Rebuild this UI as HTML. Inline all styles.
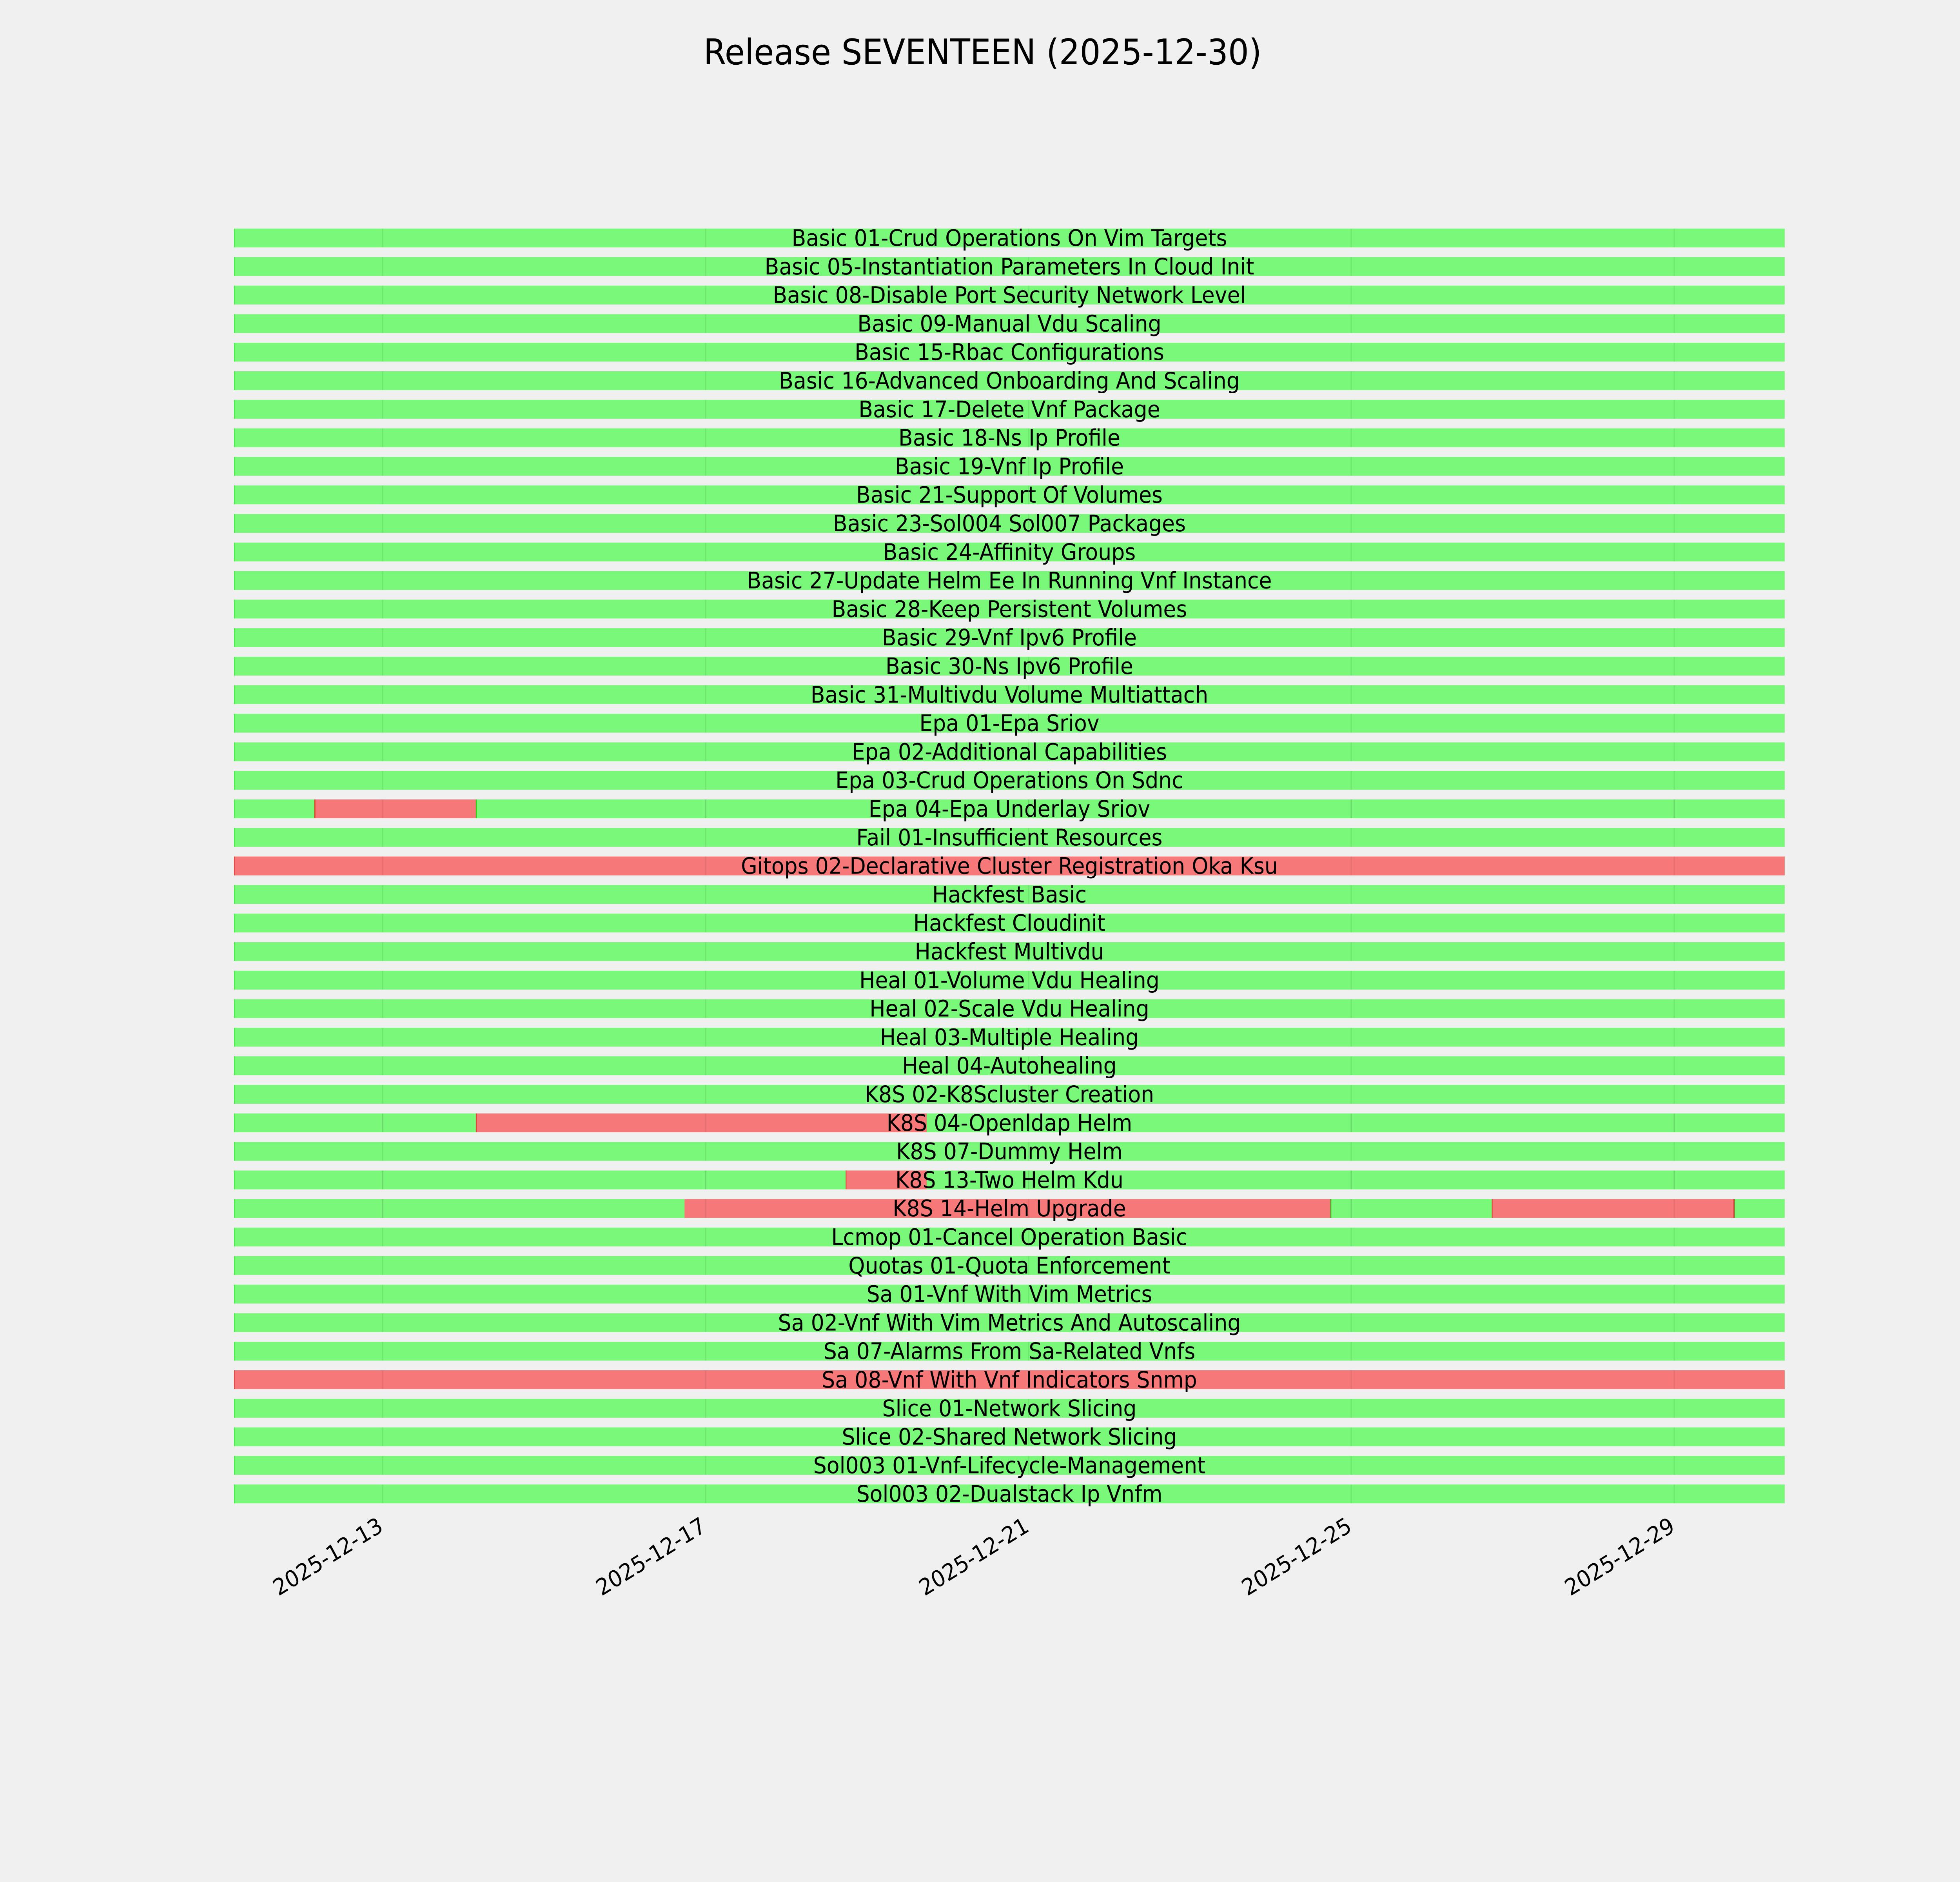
<!DOCTYPE html>
<html><head><meta charset="utf-8"><style>
html,body{margin:0;padding:0;background:#f0f0f0;width:100%;height:100%;overflow:hidden;}
svg{display:block;width:100vw;height:100vh;}
text{font-family:"DejaVu Sans","Liberation Sans",sans-serif;fill:#000;}
</style></head><body>
<svg viewBox="0 0 5400 4800" preserveAspectRatio="none" xmlns="http://www.w3.org/2000/svg">
<defs>
<g id="row">
<rect x="645" y="0" width="4272" height="48" fill="#79f879"/>
<rect x="645" y="0" width="3" height="48" fill="#3ef03e"/>
<rect x="1052" y="0" width="4" height="48" fill="#000" fill-opacity="0.06"/>
<rect x="1942" y="0" width="4" height="48" fill="#000" fill-opacity="0.06"/>
<rect x="2832" y="0" width="4" height="48" fill="#000" fill-opacity="0.06"/>
<rect x="3721" y="0" width="4" height="48" fill="#000" fill-opacity="0.06"/>
<rect x="4611" y="0" width="4" height="48" fill="#000" fill-opacity="0.06"/>
</g>
<g id="grid">
<rect x="1052" y="0" width="4" height="48" fill="#000" fill-opacity="0.06"/>
<rect x="1942" y="0" width="4" height="48" fill="#000" fill-opacity="0.06"/>
<rect x="2832" y="0" width="4" height="48" fill="#000" fill-opacity="0.06"/>
<rect x="3721" y="0" width="4" height="48" fill="#000" fill-opacity="0.06"/>
<rect x="4611" y="0" width="4" height="48" fill="#000" fill-opacity="0.06"/>
</g>
</defs>
<rect width="5400" height="4800" fill="#f0f0f0"/>
<text x="2707" y="164" font-size="90" text-anchor="middle">Release SEVENTEEN (2025-12-30)</text>

<g transform="translate(0,583)"><use href="#row"/></g>
<g transform="translate(0,655.8)"><use href="#row"/></g>
<g transform="translate(0,728.6)"><use href="#row"/></g>
<g transform="translate(0,801.4)"><use href="#row"/></g>
<g transform="translate(0,874.2)"><use href="#row"/></g>
<g transform="translate(0,947)"><use href="#row"/></g>
<g transform="translate(0,1019.8)"><use href="#row"/></g>
<g transform="translate(0,1092.6)"><use href="#row"/></g>
<g transform="translate(0,1165.4)"><use href="#row"/></g>
<g transform="translate(0,1238.2)"><use href="#row"/></g>
<g transform="translate(0,1311)"><use href="#row"/></g>
<g transform="translate(0,1383.8)"><use href="#row"/></g>
<g transform="translate(0,1456.6)"><use href="#row"/></g>
<g transform="translate(0,1529.4)"><use href="#row"/></g>
<g transform="translate(0,1602.2)"><use href="#row"/></g>
<g transform="translate(0,1675)"><use href="#row"/></g>
<g transform="translate(0,1747.8)"><use href="#row"/></g>
<g transform="translate(0,1820.6)"><use href="#row"/></g>
<g transform="translate(0,1893.4)"><use href="#row"/></g>
<g transform="translate(0,1966.2)"><use href="#row"/></g>
<g transform="translate(0,2039)"><use href="#row"/><rect x="867" y="0" width="445" height="48" fill="#f77878"/><rect x="866" y="0" width="3" height="48" fill="#e03a20"/><rect x="1311" y="0" width="3" height="48" fill="#3ad020"/><use href="#grid"/></g>
<g transform="translate(0,2111.8)"><use href="#row"/></g>
<g transform="translate(0,2184.6)"><use href="#row"/><rect x="645" y="0" width="4272" height="48" fill="#f77878"/><rect x="645" y="0" width="3" height="48" fill="#f04040"/><use href="#grid"/></g>
<g transform="translate(0,2257.4)"><use href="#row"/></g>
<g transform="translate(0,2330.2)"><use href="#row"/></g>
<g transform="translate(0,2403)"><use href="#row"/></g>
<g transform="translate(0,2475.8)"><use href="#row"/></g>
<g transform="translate(0,2548.6)"><use href="#row"/></g>
<g transform="translate(0,2621.4)"><use href="#row"/></g>
<g transform="translate(0,2694.2)"><use href="#row"/></g>
<g transform="translate(0,2767)"><use href="#row"/></g>
<g transform="translate(0,2839.8)"><use href="#row"/><rect x="1312" y="0" width="1241" height="48" fill="#f77878"/><rect x="1311" y="0" width="2" height="48" fill="#c03a20"/><use href="#grid"/></g>
<g transform="translate(0,2912.6)"><use href="#row"/></g>
<g transform="translate(0,2985.4)"><use href="#row"/><rect x="2331" y="0" width="222" height="48" fill="#f77878"/><rect x="2330" y="0" width="2" height="48" fill="#c03a20"/><use href="#grid"/></g>
<g transform="translate(0,3058.2)"><use href="#row"/><rect x="1886" y="0" width="1780" height="48" fill="#f77878"/><rect x="4111" y="0" width="666" height="48" fill="#f77878"/><rect x="3665" y="0" width="3" height="48" fill="#3ab020"/><rect x="4110" y="0" width="2" height="48" fill="#c03a20"/><rect x="4776" y="0" width="3" height="48" fill="#c03a20"/><use href="#grid"/></g>
<g transform="translate(0,3131)"><use href="#row"/></g>
<g transform="translate(0,3203.8)"><use href="#row"/></g>
<g transform="translate(0,3276.6)"><use href="#row"/></g>
<g transform="translate(0,3349.4)"><use href="#row"/></g>
<g transform="translate(0,3422.2)"><use href="#row"/></g>
<g transform="translate(0,3495)"><use href="#row"/><rect x="645" y="0" width="4272" height="48" fill="#f77878"/><rect x="645" y="0" width="3" height="48" fill="#f04040"/><use href="#grid"/></g>
<g transform="translate(0,3567.8)"><use href="#row"/></g>
<g transform="translate(0,3640.6)"><use href="#row"/></g>
<g transform="translate(0,3713.4)"><use href="#row"/></g>
<g transform="translate(0,3786.2)"><use href="#row"/></g>

<g font-size="58" text-anchor="middle">
<text x="2781" y="627">Basic 01-Crud Operations On Vim Targets</text>
<text x="2781" y="699.8">Basic 05-Instantiation Parameters In Cloud Init</text>
<text x="2781" y="772.6">Basic 08-Disable Port Security Network Level</text>
<text x="2781" y="845.4">Basic 09-Manual Vdu Scaling</text>
<text x="2781" y="918.2">Basic 15-Rbac Configurations</text>
<text x="2781" y="991">Basic 16-Advanced Onboarding And Scaling</text>
<text x="2781" y="1063.8">Basic 17-Delete Vnf Package</text>
<text x="2781" y="1136.6">Basic 18-Ns Ip Profile</text>
<text x="2781" y="1209.4">Basic 19-Vnf Ip Profile</text>
<text x="2781" y="1282.2">Basic 21-Support Of Volumes</text>
<text x="2781" y="1355">Basic 23-Sol004 Sol007 Packages</text>
<text x="2781" y="1427.8">Basic 24-Affinity Groups</text>
<text x="2781" y="1500.6">Basic 27-Update Helm Ee In Running Vnf Instance</text>
<text x="2781" y="1573.4">Basic 28-Keep Persistent Volumes</text>
<text x="2781" y="1646.2">Basic 29-Vnf Ipv6 Profile</text>
<text x="2781" y="1719">Basic 30-Ns Ipv6 Profile</text>
<text x="2781" y="1791.8">Basic 31-Multivdu Volume Multiattach</text>
<text x="2781" y="1864.6">Epa 01-Epa Sriov</text>
<text x="2781" y="1937.4">Epa 02-Additional Capabilities</text>
<text x="2781" y="2010.2">Epa 03-Crud Operations On Sdnc</text>
<text x="2781" y="2083">Epa 04-Epa Underlay Sriov</text>
<text x="2781" y="2155.8">Fail 01-Insufficient Resources</text>
<text x="2781" y="2228.6">Gitops 02-Declarative Cluster Registration Oka Ksu</text>
<text x="2781" y="2301.4">Hackfest Basic</text>
<text x="2781" y="2374.2">Hackfest Cloudinit</text>
<text x="2781" y="2447">Hackfest Multivdu</text>
<text x="2781" y="2519.8">Heal 01-Volume Vdu Healing</text>
<text x="2781" y="2592.6">Heal 02-Scale Vdu Healing</text>
<text x="2781" y="2665.4">Heal 03-Multiple Healing</text>
<text x="2781" y="2738.2">Heal 04-Autohealing</text>
<text x="2781" y="2811">K8S 02-K8Scluster Creation</text>
<text x="2781" y="2883.8">K8S 04-Openldap Helm</text>
<text x="2781" y="2956.6">K8S 07-Dummy Helm</text>
<text x="2781" y="3029.4">K8S 13-Two Helm Kdu</text>
<text x="2781" y="3102.2">K8S 14-Helm Upgrade</text>
<text x="2781" y="3175">Lcmop 01-Cancel Operation Basic</text>
<text x="2781" y="3247.8">Quotas 01-Quota Enforcement</text>
<text x="2781" y="3320.6">Sa 01-Vnf With Vim Metrics</text>
<text x="2781" y="3393.4">Sa 02-Vnf With Vim Metrics And Autoscaling</text>
<text x="2781" y="3466.2">Sa 07-Alarms From Sa-Related Vnfs</text>
<text x="2781" y="3539">Sa 08-Vnf With Vnf Indicators Snmp</text>
<text x="2781" y="3611.8">Slice 01-Network Slicing</text>
<text x="2781" y="3684.6">Slice 02-Shared Network Slicing</text>
<text x="2781" y="3757.4">Sol003 01-Vnf-Lifecycle-Management</text>
<text x="2781" y="3830.2">Sol003 02-Dualstack Ip Vnfm</text>
</g>

<g font-size="58" text-anchor="end">
<text transform="translate(1059,3903) rotate(-30)">2025-12-13</text>
<text transform="translate(1949,3903) rotate(-30)">2025-12-17</text>
<text transform="translate(2839,3903) rotate(-30)">2025-12-21</text>
<text transform="translate(3728,3903) rotate(-30)">2025-12-25</text>
<text transform="translate(4618,3903) rotate(-30)">2025-12-29</text>
</g>
</svg>
</body></html>
